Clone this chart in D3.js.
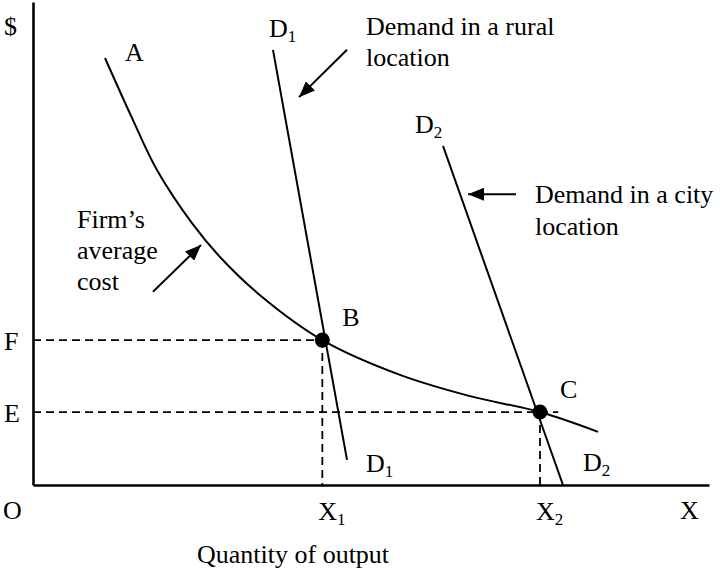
<!DOCTYPE html>
<html>
<head>
<meta charset="utf-8">
<script src="https://cdn.jsdelivr.net/npm/d3@7"></script>
<style>
  html, body { margin: 0; padding: 0; background: #fff; }
  svg text { font-family: "Liberation Serif", "Times New Roman", serif; fill: #000; }
</style>
</head>
<body>
<svg id="chart" width="720" height="573"></svg>
<script>
// ---- data (quantity units 0..10, price units 0..10) ----
const acQ = [1.065, 1.464, 1.834, 2.352, 2.766, 3.358, 4.28, 5.429, 6.464, 7.50, 8.358];
const acP = [8.84, 7.60, 6.52, 5.42, 4.72, 3.93, 3.00, 2.28, 1.84, 1.51, 1.10];
const d1Q = [3.55, 4.645];
const d1P = [9.01, 0.52];
const d2Q = [6.065, 7.84];
const d2P = [7.02, 0];
const pointNames = ["B", "C"];
const pointQ = [4.28, 7.50];
const pointP = [3.00, 1.51];
const yTickLabels = ["F", "E"];
const xTickLabels = [["X", "1"], ["X", "2"]];
const eLineEndQ = 7.77;
// arrows: [fromQ, fromP, toQ, toP]
const arrowRural = [4.645, 9.01, 3.935, 8.03];
const arrowCity = [7.145, 6.02, 6.435, 6.02];
const arrowCost = [1.775, 4.00, 2.485, 4.97];
const ruralText = ["Demand in a rural", "location"];
const cityText = ["Demand in a city", "location"];
const costText = ["Firm\u2019s", "average", "cost"];
const xAxisTitle = "Quantity of output";

// ---- scales ----
const svg = d3.select("#chart");
const x = d3.scaleLinear().domain([0, 10]).range([33, 709]);
const y = d3.scaleLinear().domain([0, 10]).range([485, 2]);
const FS = 26, SUB = 17;

svg.append("defs").append("marker")
  .attr("id", "ah").attr("markerUnits", "userSpaceOnUse")
  .attr("viewBox", "0 0 16 13").attr("refX", 16).attr("refY", 6.5)
  .attr("markerWidth", 16).attr("markerHeight", 13).attr("orient", "auto")
  .append("path").attr("d", "M0,0 L16,6.5 L0,13 Z").attr("fill", "#000");

// ---- axes ----
svg.append("g").attr("transform", `translate(0,${y(0)})`)
  .call(d3.axisBottom(x).tickValues([]).tickSizeOuter(0));
svg.append("g").attr("transform", `translate(${x(0)},0)`)
  .call(d3.axisLeft(y).tickValues([]).tickSizeOuter(0));
svg.selectAll(".domain").attr("stroke", "#000").attr("stroke-width", 2.6);

// ---- dashed guides ----
const dash = "8,5";
pointQ.forEach((q, i) => {
  const endQ = i === 1 ? eLineEndQ : q;
  svg.append("line").attr("x1", x(0)).attr("x2", x(endQ))
    .attr("y1", y(pointP[i])).attr("y2", y(pointP[i]))
    .attr("stroke", "#000").attr("stroke-width", 1.8).attr("stroke-dasharray", dash);
  svg.append("line").attr("x1", x(q)).attr("x2", x(q))
    .attr("y1", y(pointP[i])).attr("y2", y(0))
    .attr("stroke", "#000").attr("stroke-width", 1.8).attr("stroke-dasharray", dash);
});

// ---- average cost curve ----
const acData = acQ.map((q, i) => [q, acP[i]]);
svg.append("path").datum(acData)
  .attr("d", d3.line().x(d => x(d[0])).y(d => y(d[1])).curve(d3.curveCatmullRom.alpha(0.5)))
  .attr("fill", "none").attr("stroke", "#000").attr("stroke-width", 2);

// ---- demand lines ----
[[d1Q, d1P], [d2Q, d2P]].forEach(([qs, ps]) => {
  svg.append("line").attr("x1", x(qs[0])).attr("y1", y(ps[0]))
    .attr("x2", x(qs[1])).attr("y2", y(ps[1]))
    .attr("stroke", "#000").attr("stroke-width", 2);
});

// ---- points ----
svg.selectAll("circle.pt").data(pointQ).join("circle").attr("class", "pt")
  .attr("cx", d => x(d)).attr("cy", (d, i) => y(pointP[i])).attr("r", 7.5).attr("fill", "#000");

// ---- arrows ----
[arrowRural, arrowCity, arrowCost].forEach(a => {
  svg.append("line").attr("x1", x(a[0])).attr("y1", y(a[1]))
    .attr("x2", x(a[2])).attr("y2", y(a[3]))
    .attr("stroke", "#000").attr("stroke-width", 2).attr("marker-end", "url(#ah)");
});

// ---- text helpers ----
function label(px, py, main, sub) {
  const t = svg.append("text").attr("x", px).attr("y", py).attr("font-size", FS).text(main);
  if (sub) t.append("tspan").attr("font-size", SUB).attr("dy", 5).text(sub);
  return t;
}
function block(px, py, lines, gap) {
  lines.forEach((l, i) => label(px, py + i * gap, l));
}

label(4, 35, "$");
label(3, 519, "O");
label(680, 519, "X");
yTickLabels.forEach((t, i) => label(4, y(pointP[i]) + 10, t));
xTickLabels.forEach((t, i) => label(x(pointQ[i]) - 4, 520, t[0], t[1]));
label(197, 563, xAxisTitle);

label(x(acQ[0]) + 20, y(acP[0]) + 3, "A");
label(x(d1Q[0]) - 4, y(d1P[0]) - 13, "D", "1");
label(x(d2Q[0]) - 28, y(d2P[0]) - 13, "D", "2");
label(x(d1Q[1]) + 19, y(d1P[1]) + 12, "D", "1");
label(x(d2Q[1]) + 20, y(d2P[1]) - 14, "D", "2");
pointNames.forEach((n, i) => label(x(pointQ[i]) + 20, y(pointP[i]) - 14, n));

block(366, 35, ruralText, 31);
block(535, 203, cityText, 32);
block(77, 228, costText, 31);
</script>
</body>
</html>
